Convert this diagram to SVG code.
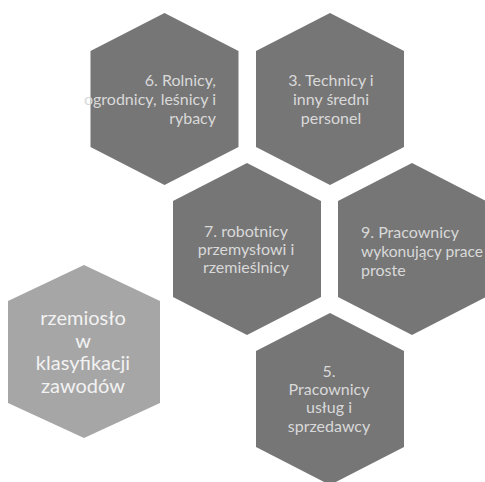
<svg xmlns="http://www.w3.org/2000/svg" width="485" height="482" viewBox="0 0 485 482">
<style>
.dark{fill:#767676}
.light{fill:#a6a6a6}
.t{font-family:Lato,"Open Sans","DejaVu Sans",sans-serif;font-size:16px;fill:#d9d9d9}
.c{text-anchor:middle}
.r{text-anchor:end}
.big{font-family:Lato,"Open Sans","DejaVu Sans",sans-serif;font-size:20px;fill:#f2f2f2;text-anchor:middle}
</style>
<rect width="485" height="482" fill="#ffffff"/>
<g id="hex6">
<polygon class="dark" points="164.5,13 238.5,51 238.5,147 164.5,185 90.5,147 90.5,51"/>
<text class="t r" x="216" y="86">6. Rolnicy,</text>
<text class="t r" x="216" y="105">ogrodnicy, leśnicy i</text>
<text class="t r" x="216" y="124">rybacy</text>
</g>
<g id="hex3">
<polygon class="dark" points="330,13 404,51 404,147 330,185 256,147 256,51"/>
<text class="t c" x="331" y="86">3. Technicy i</text>
<text class="t c" x="331" y="105">inny średni</text>
<text class="t c" x="331" y="124">personel</text>
</g>
<g id="hex7">
<polygon class="dark" points="247,163 321,201 321,297 247,335 173,297 173,201"/>
<text class="t c" x="246" y="237">7. robotnicy</text>
<text class="t c" x="246" y="255">przemysłowi i</text>
<text class="t c" x="246" y="273">rzemieślnicy</text>
</g>
<g id="hex9">
<polygon class="dark" points="412,163 486,201 486,297 412,335 338,297 338,201"/>
<text class="t" x="361" y="238">9. Pracownicy</text>
<text class="t" x="361" y="257" textLength="122" lengthAdjust="spacingAndGlyphs">wykonujący prace</text>
<text class="t" x="361" y="276">proste</text>
</g>
<g id="hex5">
<polygon class="dark" points="330,313 404,351 404,447 330,485 256,447 256,351"/>
<text class="t c" x="329" y="377">5.</text>
<text class="t c" x="329" y="395">Pracownicy</text>
<text class="t c" x="329" y="413">usług i</text>
<text class="t c" x="329" y="432">sprzedawcy</text>
</g>
<g id="center">
<polygon class="light" points="84,265 160,301 160,403 84,438 8,403 8,301"/>
<text class="big" x="83" y="325">rzemiosło</text>
<text class="big" x="83" y="347.5">w</text>
<text class="big" x="83" y="370">klasyfikacji</text>
<text class="big" x="83" y="392.5">zawodów</text>
</g>
<g id="connectors"></g>
</svg>
